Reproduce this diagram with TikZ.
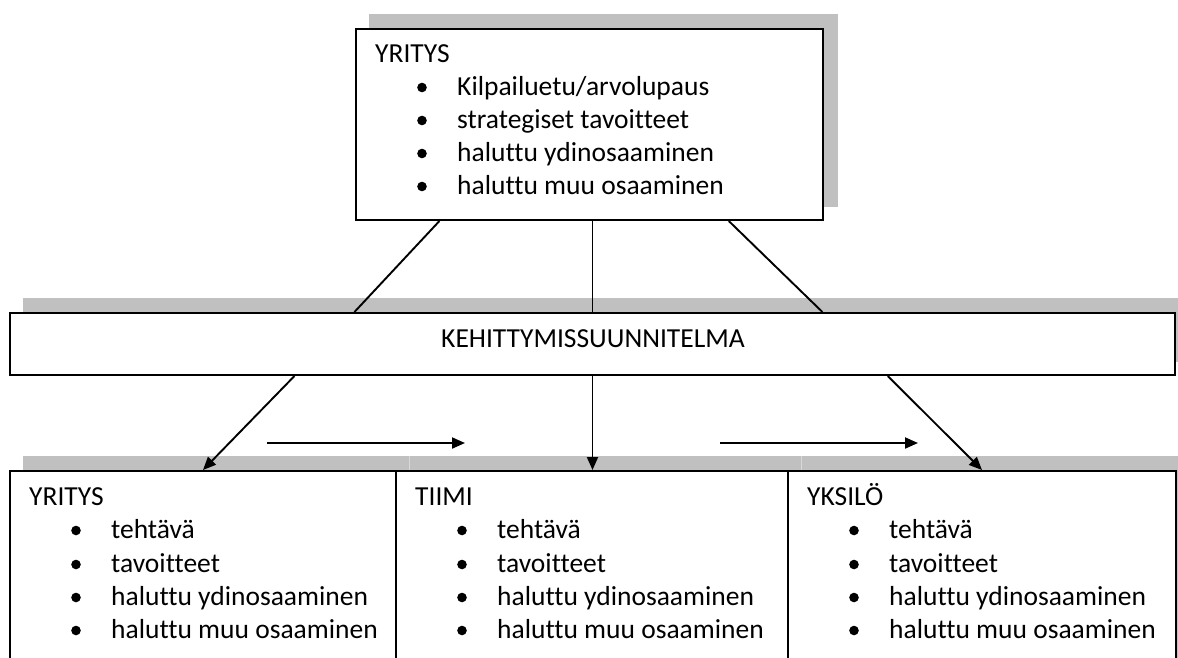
\documentclass[tikz,border=0pt]{standalone}
\usepackage{fontspec}
\setmainfont{Carlito}[Ligatures=NoCommon]
\usetikzlibrary{arrows.meta,calc}
\definecolor{shade}{HTML}{C0C0C0}
\definecolor{seam}{HTML}{D8D8D8}
\pgfdeclarelayer{back}
\pgfsetlayers{back,main}
% one bulleted entry: #1 node name, #2 box left edge, #3 baseline, #4 text
\newcommand\listentry[4]{%
  \fill (#2+66,#3-7.5) circle (4.8pt);
  \node[txt] (#1) at (#2+101,#3) {#4};}
\begin{document}
\begin{tikzpicture}[x=1pt,y=-1pt,
  box/.style={draw=black,line width=2pt,fill=white,inner sep=0pt,rectangle},
  link/.style={line width=1.9pt},
  arrowlink/.style={line width=1.9pt,-{Triangle[length=13pt,width=11pt]}},
  txt/.style={anchor=base west,inner sep=0pt,font=\fontsize{27.5}{33}\selectfont},
  shadowfill/.style={fill=shade}]
\useasboundingbox (0,0) rectangle (1178,657);
\clip (0,0) rectangle (1178,657);

% boxes
\node[box,minimum width=467pt,minimum height=191pt] (top) at (589.5,124.5) {};
\node[box,minimum width=1165pt,minimum height=62pt] (plan) at (592.5,344) {};
\node[box,minimum width=386pt,minimum height=230pt] (b1) at (203,586) {};
\node[box,minimum width=392pt,minimum height=230pt] (b2) at (592,586) {};
\node[box,minimum width=388pt,minimum height=230pt] (b3) at (982,586) {};

% drop shadows behind the boxes, offset up and to the right
\begin{pgfonlayer}{back}
  \foreach \n in {top,plan,b1,b2,b3}
    \fill[shadowfill] ([xshift=14pt,yshift=14pt]\n.south west) rectangle ([xshift=14pt,yshift=14pt]\n.north east);
  \draw[seam,line width=0.8pt] ([xshift=14pt,yshift=14pt]b2.north west) -- ([xshift=14pt]b2.north west);
  \draw[seam,line width=0.8pt] ([xshift=14pt,yshift=14pt]b3.north west) -- ([xshift=14pt]b3.north west);
\end{pgfonlayer}

% top box contents
\node[txt] (topTitle) at (375,62) {YRITYS};
\listentry{top1}{356}{95}{Kilpailuetu/arvolupaus}
\listentry{top2}{356}{128}{strategiset tavoitteet}
\listentry{top3}{356}{161}{haluttu ydinosaaminen}
\listentry{top4}{356}{194}{haluttu muu osaaminen}

% development plan bar
\node[txt,anchor=base] (planText) at (593,347) {KEHITTYMISSUUNNITELMA};

% lower boxes
\node[txt] (b1Title) at (29,505) {YRITYS};
\listentry{b1a}{10}{538}{tehtävä}
\listentry{b1b}{10}{572}{tavoitteet}
\listentry{b1c}{10}{605}{haluttu ydinosaaminen}
\listentry{b1d}{10}{638}{haluttu muu osaaminen}

\node[txt] (b2Title) at (415,505) {TIIMI};
\listentry{b2a}{396}{538}{tehtävä}
\listentry{b2b}{396}{572}{tavoitteet}
\listentry{b2c}{396}{605}{haluttu ydinosaaminen}
\listentry{b2d}{396}{638}{haluttu muu osaaminen}

\node[txt] (b3Title) at (807,505) {YKSILÖ};
\listentry{b3a}{788}{538}{tehtävä}
\listentry{b3b}{788}{572}{tavoitteet}
\listentry{b3c}{788}{605}{haluttu ydinosaaminen}
\listentry{b3d}{788}{638}{haluttu muu osaaminen}

% connectors from the top box down to the plan
\draw[link] ($(top.south west)!0.18!(top.south east)$) -- ($(plan.north west)!0.296!(plan.north east)$);
\draw[link] (plan.north |- top.south) -- (plan.north);
\draw[link] ($(top.south west)!0.797!(top.south east)$) -- ($(plan.north west)!0.697!(plan.north east)$);

% arrows from the plan to the three levels
\draw[arrowlink] ($(plan.south west)!0.2446!(plan.south east)$) -- (b1.north);
\draw[arrowlink] (plan.south) -- (plan.south |- b2.north);
\draw[arrowlink] ($(plan.south west)!0.753!(plan.south east)$) -- (b3.north);

% flow arrows between levels
\coordinate (f1s) at (267,443);
\coordinate (f1e) at (465,443);
\coordinate (f2s) at (720,443);
\coordinate (f2e) at (918,443);
\draw[arrowlink] (f1s) -- (f1e);
\draw[arrowlink] (f2s) -- (f2e);
\end{tikzpicture}
\end{document}
